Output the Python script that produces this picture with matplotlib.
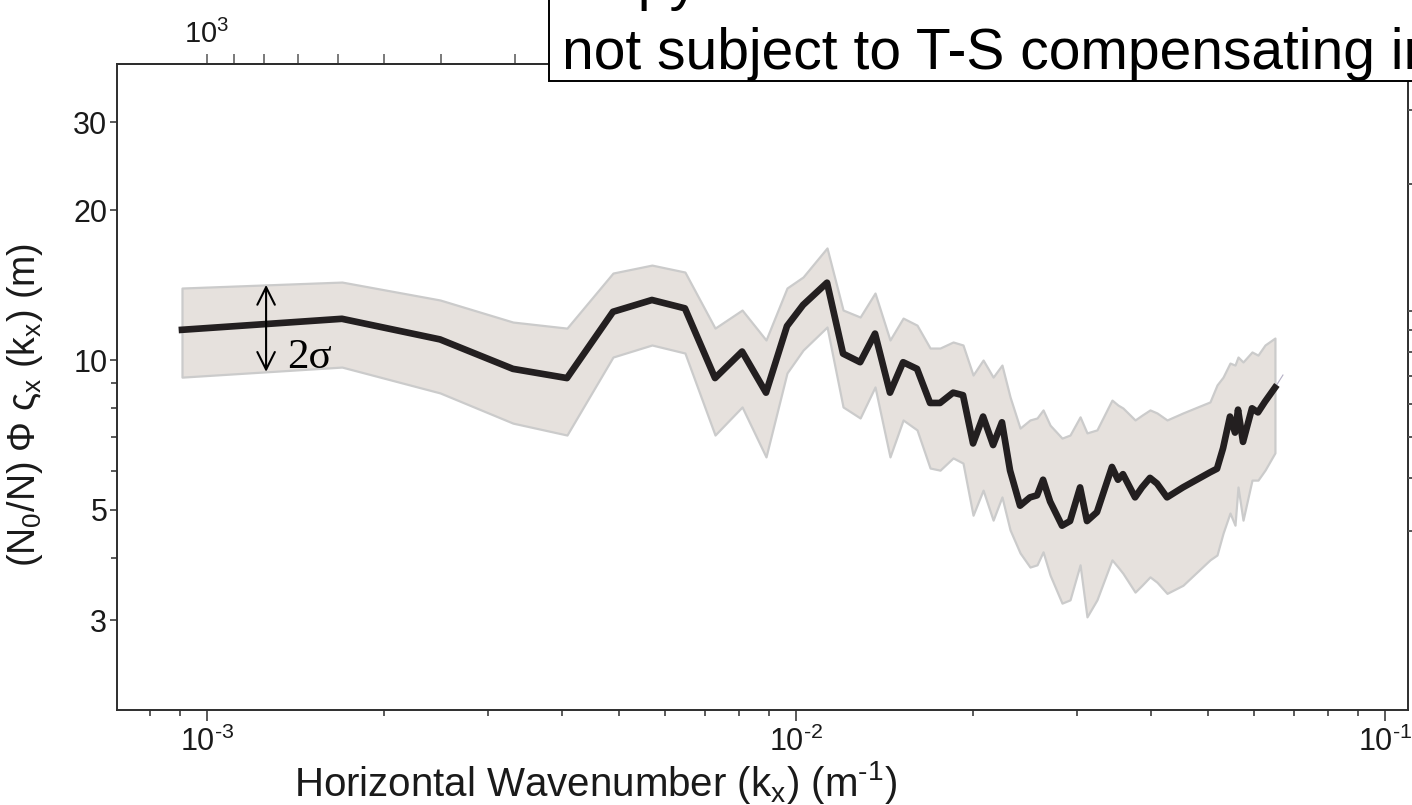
import numpy as np
import matplotlib
matplotlib.use("Agg")
import matplotlib.pyplot as plt
from matplotlib.patches import Rectangle
from matplotlib.ticker import FixedLocator, FixedFormatter, NullFormatter

plt.rcParams["font.family"] = ["Liberation Sans", "DejaVu Sans"]
plt.rcParams["mathtext.fontset"] = "custom"
plt.rcParams["mathtext.rm"] = "Liberation Sans"
plt.rcParams["mathtext.it"] = "Liberation Sans:italic"
plt.rcParams["mathtext.default"] = "regular"

# Horizontal wavenumber k_x (m^-1)
wavenumber = [9.07e-4, 1.695e-3, 2.487e-3, 3.307e-3, 4.085e-3, 4.890e-3, 5.694e-3,
              6.478e-3, 7.287e-3, 8.100e-3, 8.894e-3, 9.654e-3, 1.028e-2, 1.129e-2,
              1.202e-2, 1.285e-2, 1.362e-2, 1.444e-2, 1.520e-2, 1.605e-2, 1.689e-2,
              1.756e-2, 1.848e-2, 1.921e-2, 1.998e-2, 2.078e-2, 2.161e-2, 2.237e-2,
              2.309e-2, 2.401e-2, 2.496e-2, 2.566e-2, 2.627e-2, 2.700e-2, 2.829e-2,
              2.919e-2, 3.036e-2, 3.119e-2, 3.243e-2, 3.439e-2, 3.521e-2, 3.590e-2,
              3.764e-2, 3.867e-2, 3.990e-2, 4.101e-2, 4.265e-2, 4.539e-2, 5.045e-2,
              5.185e-2, 5.309e-2, 5.455e-2, 5.563e-2, 5.629e-2, 5.740e-2, 5.945e-2,
              6.086e-2, 6.255e-2, 6.503e-2]

# Normalised isopycnal displacement spectrum (m)
spectrum = [11.5, 12.1, 11.0, 9.6, 9.2, 12.5, 13.2, 12.7, 9.2, 10.4, 8.6, 11.7, 12.9,
            14.3, 10.3, 9.9, 11.3, 8.6, 9.9, 9.6, 8.2, 8.2, 8.6, 8.5, 6.8, 7.7, 6.75,
            7.5, 6.0, 5.1, 5.3, 5.35, 5.75, 5.2, 4.65, 4.75, 5.55, 4.75, 4.95, 6.1,
            5.75, 5.9, 5.3, 5.55, 5.8, 5.65, 5.3, 5.55, 5.95, 6.05, 6.65, 7.7, 7.15,
            7.95, 6.85, 8.0, 7.85, 8.25, 8.8]

# Upper and lower edges of the 2-sigma envelope (m)
upper = [13.95, 14.34, 13.2, 11.92, 11.59, 14.95, 15.51, 15.02, 11.59, 12.6, 10.97,
         13.95, 14.68, 16.79, 12.6, 12.2, 13.63, 10.97, 12.14, 11.75, 10.57, 10.57,
         10.87, 10.72, 9.33, 10.0, 9.24, 9.77, 8.43, 7.3, 7.58, 7.65, 7.94, 7.4, 6.97,
         7.07, 7.69, 7.14, 7.24, 8.31, 8.12, 8.01, 7.58, 7.75, 7.94, 7.83, 7.58, 7.83,
         8.24, 8.91, 9.24, 9.86, 9.77, 10.14, 9.91, 10.38, 10.23, 10.72, 11.07]
lower = [9.24, 9.68, 8.59, 7.47, 7.07, 10.14, 10.72, 10.33, 7.07, 8.05, 6.39, 9.42,
         10.47, 11.65, 8.05, 7.65, 8.83, 6.39, 7.58, 7.24, 6.07, 6.01, 6.36, 6.21, 4.88,
         5.48, 4.77, 5.31, 4.56, 4.10, 3.84, 3.88, 4.12, 3.70, 3.25, 3.30, 3.88, 3.05,
         3.30, 3.97, 3.84, 3.73, 3.42, 3.53, 3.67, 3.58, 3.40, 3.53, 3.97, 4.06, 4.49,
         4.93, 4.66, 5.56, 4.77, 5.74, 5.74, 6.01, 6.51]

# Short thin extension past the last spectral estimate
tail_k = [6.503e-2, 6.71e-2]
tail_val = [8.8, 9.33]

x_major = [1e-3, 1e-2, 1e-1]
x_major_labels = [r"$10^{\text{-3}}$", r"$10^{\text{-2}}$", r"$10^{\text{-1}}$"]
x_minor = [8e-4, 9e-4] + [m * 1e-3 for m in range(2, 10)] + [m * 1e-2 for m in range(2, 10)]
y_major = [3, 5, 10, 20, 30]
y_major_labels = ["3", "5", "10", "20", "30"]
y_minor = [4, 6, 7, 8, 9]
wl_major = [1000]
wl_major_labels = [r"$10^{3}$"]
wl_minor = [300, 400, 500, 600, 700, 800, 900]

W, H = 1412, 805
fig = plt.figure(figsize=(W / 100, H / 100), dpi=100)
fig.patch.set_facecolor("white")

ax_l, ax_r, ax_b, ax_t = 117, 1408, 710, 64
ax = fig.add_axes([ax_l / W, 1 - ax_b / H, (ax_r - ax_l) / W, (ax_b - ax_t) / H])
ax.set_xscale("log")
ax.set_yscale("log")
ax.set_xlim(7.035e-4, 0.1094)
ax.set_ylim(1.983, 39.3)

spine_col = "#2e2e2e"
for s in ax.spines.values():
    s.set_color(spine_col)
    s.set_linewidth(1.4)

k = np.array(wavenumber)
ax.fill_between(k, lower, upper, facecolor="#e6e1dd", edgecolor="#cbcbcb",
                linewidth=1.6, zorder=2)
ax.plot(k, spectrum, color="#231f20", linewidth=4.8, solid_joinstyle="round",
        zorder=4)
ax.plot(tail_k, tail_val, color="#b3aec4", linewidth=0.8, zorder=3)

ax.xaxis.set_major_locator(FixedLocator(x_major))
ax.xaxis.set_major_formatter(FixedFormatter(x_major_labels))
ax.xaxis.set_minor_locator(FixedLocator(x_minor))
ax.xaxis.set_minor_formatter(NullFormatter())
ax.yaxis.set_major_locator(FixedLocator(y_major))
ax.yaxis.set_major_formatter(FixedFormatter(y_major_labels))
ax.yaxis.set_minor_locator(FixedLocator(y_minor))
ax.yaxis.set_minor_formatter(NullFormatter())
ax.tick_params(axis="both", which="both", direction="out", color=spine_col,
               width=1.1, labelsize=22, labelcolor="#1a1a1a", top=False, right=False)
ax.tick_params(axis="x", which="major", length=8, pad=4)
ax.tick_params(axis="x", which="minor", length=4.5)
ax.tick_params(axis="y", which="major", length=5, pad=2)
ax.tick_params(axis="y", which="minor", length=4)

ax.set_xlabel(r"Horizontal Wavenumber (k$_x$) (m$^{\text{-1}}$)", fontsize=29,
              color="#1a1a1a")
ax.xaxis.set_label_coords((595 - ax_l) / (ax_r - ax_l), (ax_b - 759) / (ax_b - ax_t))
ax.set_ylabel(r"(N$_0$/N) Φ ς$_x$ (k$_x$) (m)", fontsize=27, color="#1a1a1a")
ax.yaxis.set_label_coords((45 - ax_l) / (ax_r - ax_l), (ax_b - 405) / (ax_b - ax_t))

# wavelength scale along the top edge
top = ax.secondary_xaxis("top", functions=(lambda x: 1.0 / x, lambda x: 1.0 / x))
top.xaxis.set_major_locator(FixedLocator(wl_major))
top.xaxis.set_major_formatter(FixedFormatter(wl_major_labels))
top.xaxis.set_minor_locator(FixedLocator(wl_minor))
top.xaxis.set_minor_formatter(NullFormatter())
top.tick_params(axis="x", which="both", direction="out", length=7, width=1.1,
                color="#555555", labelsize=21, labelcolor="#1a1a1a", pad=4)
top.spines["top"].set_color(spine_col)
top.spines["top"].set_linewidth(1.4)

# ticks of the right-hand scale
rt = ax.twinx()
rt.set_yscale("log")
rt.set_ylim(1.122, 38.7)
rt.yaxis.set_major_locator(FixedLocator(y_major + y_minor + [20]))
rt.yaxis.set_major_formatter(NullFormatter())
rt.yaxis.set_minor_locator(FixedLocator([]))
rt.tick_params(axis="y", which="both", direction="out", length=4, width=1.4,
               color="#555555")
for s in rt.spines.values():
    s.set_visible(False)

# 2-sigma marker drawn across the envelope
k_arrow = 1.26e-3
lk = np.log10(k)
top_val = 10 ** np.interp(np.log10(k_arrow), lk, np.log10(upper))
bot_val = 10 ** np.interp(np.log10(k_arrow), lk, np.log10(lower))
ax.annotate("", xy=(k_arrow, top_val), xytext=(k_arrow, bot_val),
            arrowprops=dict(arrowstyle="<->,head_length=0.7,head_width=0.35",
                            color="black", lw=1.5, mutation_scale=18,
                            shrinkA=0, shrinkB=0), zorder=6)
ax.text(1.367e-3, bot_val * 1.02, "2σ", fontsize=31, family="Liberation Serif",
        ha="left", va="baseline", zorder=6)

# caption box along the top edge
box = Rectangle((549 / W, 1 - 81 / H), (W + 20 - 549) / W, 100 / H,
                transform=fig.transFigure, facecolor="white", edgecolor="black",
                linewidth=1.4, zorder=10)
fig.add_artist(box)
fig.text(562 / W, 1 - 69 / H, "not subject to T-S compensating intrusions",
         fontsize=41, ha="left", va="baseline", color="black", zorder=11)
fig.text(562 / W, 1 + 1 / H, "Isopycnal motions",
         fontsize=41, ha="left", va="baseline", color="black", zorder=11)

fig.savefig("out.png", dpi=100)
